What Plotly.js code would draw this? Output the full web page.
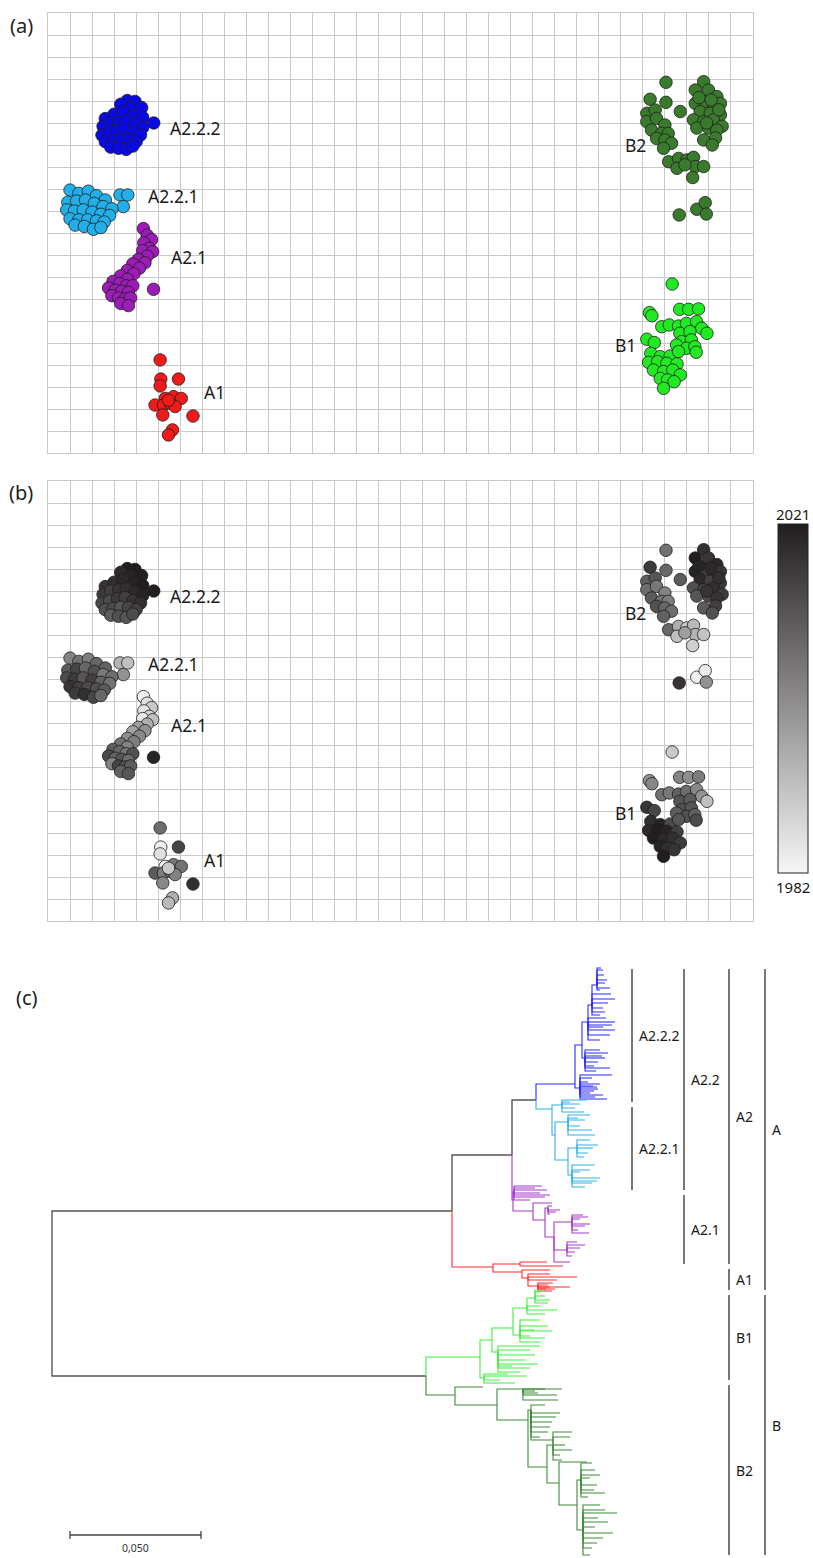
<!DOCTYPE html>
<html><head><meta charset="utf-8">
<script src="https://cdn.plot.ly/plotly-3.0.1.min.js"></script>
<style>html,body{margin:0;padding:0;background:#fff}</style>
</head><body><div id="chart" style="width:813px;height:1558px"></div>
<script>
// ---------------- DATA: panel (a)/(b) point clouds (grid units) ----------------
const clusterNames = ['A2.2.2','A2.2.1','A2.1','A1','B2','B1'];
const clusterColors = ['#0a0ae6','#22aee8','#9c1cb8','#f01a1a','#3a7a2c','#22ea22'];

const a222X = [3.6,3.95,3.3,3.75,4.25,2.6,3.0,3.4,3.9,4.3,2.5,2.85,3.2,3.55,3.95,4.3,2.45,2.8,3.15,3.5,3.85,4.2,2.6,2.95,3.3,3.65,4.0,2.85,3.2,3.55,3.85,4.8];
const a222Y = [3.98,4.02,4.15,4.3,4.3,4.8,4.6,4.5,4.65,4.75,5.15,5.0,4.95,4.9,5.05,5.2,5.55,5.45,5.35,5.3,5.45,5.55,5.85,5.8,5.75,5.75,5.85,6.1,6.15,6.2,6.05,5.0];
const a222Yr = [2021,2021,2019,2020,2021,2017,2018,2019,2020,2021,2016,2015,2017,2018,2019,2020,2014,2013,2016,2015,2017,2018,2012,2013,2011,2014,2015,2010,2012,2011,2013,2021];

const a221X = [1.0,1.4,1.83,2.2,2.6,3.27,3.62,3.42,0.9,1.3,1.7,2.1,2.5,2.9,0.85,1.2,1.6,2.0,2.4,2.8,1.0,1.4,1.8,2.2,2.55,1.23,1.65,2.06,2.4];
const a221Y = [8.05,8.2,8.1,8.3,8.5,8.27,8.27,8.8,8.6,8.55,8.5,8.65,8.8,8.9,8.95,9.0,8.95,9.05,9.15,9.2,9.35,9.4,9.4,9.45,9.5,9.64,9.7,9.83,9.75];
const a221Yr = [2003,2006,2004,2008,2009,1994,1992,2000,2010,2014,2008,2012,2005,2007,2013,2016,2011,2015,2009,2006,2017,2015,2013,2012,2010,2016,2018,2014,2008];

const a21X = [4.33,4.5,4.7,4.35,4.6,4.3,4.75,4.5,4.1,4.4,3.85,4.15,3.6,3.9,3.3,3.6,2.95,3.25,3.55,3.85,2.75,3.05,3.35,3.65,2.9,3.2,3.5,3.75,3.3,3.65,4.79];
const a21Y = [9.8,10.1,10.3,10.45,10.7,10.8,10.85,11.05,11.2,11.35,11.4,11.6,11.7,11.85,11.95,12.1,12.2,12.3,12.4,12.4,12.5,12.6,12.65,12.7,12.85,12.95,13.0,12.95,13.2,13.3,12.56];
const a21Yr = [1983,1986,1990,1985,1988,1984,1992,1995,1998,2000,1997,2002,2001,2004,2006,2003,2010,2008,2005,2012,2013,2009,2011,2007,2003,2014,2012,2010,2009,2011,2020];

const a1X = [5.09,5.12,5.92,5.09,5.32,5.7,6.05,4.86,5.24,5.55,5.77,5.47,5.21,6.58,5.65,5.47];
const a1Y = [15.77,16.64,16.64,16.95,17.52,17.44,17.52,17.82,17.82,17.74,17.89,17.6,18.27,18.32,18.95,19.18];
const a1Yr = [2007,1983,2014,1986,1982,2005,2006,2010,2004,2008,2003,1990,2002,2018,1995,1993];

const b2X = [28.05,27.33,28.05,28.7, 27.18,27.56,27.18,27.62,28.0,27.39,27.85,28.15,27.62,28.0,28.3,27.94,
  29.76,29.38,29.98,30.36,29.38,29.83,30.2,30.52,29.6,30.06,30.52,29.3,29.76,30.2,30.6,29.45,29.98,30.36,29.76,30.3,30.15,
  29.55,30.1,30.45,29.9,
  28.17,28.62,28.55,29.0,29.3,29.38,29.76,28.91,29.26, 28.65,29.45,29.83,29.88];
const b2Y = [3.15,3.92,4.06,4.48, 4.56,4.41,4.94,4.79,5.09,5.32,5.47,5.47,5.7,5.77,5.92,6.15,
  3.12,3.5,3.5,3.8,4.11,4.03,4.18,4.11,4.48,4.56,4.64,4.86,4.94,4.86,5.15,5.23,5.23,5.32,5.77,5.68,6.0,
  3.85,3.95,4.4,5.0,
  6.76,6.61,7.06,6.68,6.56,6.98,6.98,6.9,7.48, 9.18,8.92,8.62,9.14];
const b2Yr = [2006,2016,2008,2010, 2009,2011,2007,2005,2003,2010,2006,2004,2012,2008,2007,2009,
  2018,2021,2017,2019,2020,2016,2018,2017,2019,2015,2016,2012,2014,2018,2016,2011,2013,2017,2010,2015,2012,
  2020,2019,2018,2017,
  2008,1995,1992,1990,1993,1994,1991,1998,1989, 2017,1983,1984,2000];

const b1X = [28.33,27.3,27.41,28.67,29.08,29.53,27.86,28.2,28.62,28.98,29.44,29.67,29.91,28.68,29.14,28.76,29.2,27.18,27.52,
  28.53,28.98,29.36,29.42,27.36,27.79,28.24,28.62,27.26,27.67,28.09,28.55,27.48,27.94,28.36,28.7,27.79,28.12,28.42,27.94];
const b1Y = [12.32,13.62,13.76,13.47,13.47,13.45,14.26,14.18,14.23,14.11,14.03,14.33,14.56,14.56,14.48,14.94,14.86,14.83,14.98,
  15.09,15.24,15.17,15.42,15.47,15.62,15.59,15.39,15.88,15.85,15.92,15.95,16.23,16.3,16.23,16.45,16.61,16.68,16.76,17.06];
const b1Yr = [1990,2000,2002,2003,2001,2004,2006,2005,2009,2007,2002,2000,1992,2011,2010,2012,2011,2017,2014,
  2010,2012,2009,2013,2018,2020,2013,2011,2019,2021,2020,2015,2021,2019,2018,2016,2020,2018,2017,2021];

const clusterX = [a222X,a221X,a21X,a1X,b2X,b1X];
const clusterY = [a222Y,a221Y,a21Y,a1Y,b2Y,b1Y];
const clusterYear = [a222Yr,a221Yr,a21Yr,a1Yr,b2Yr,b1Yr];
const labelX = [5.45,4.45,5.5,7.0,26.09,25.64];
const labelY = [5.23,8.32,11.09,17.23,6.0,15.09];
const yearMin = 1982, yearMax = 2021;

// ---------------- DATA: panel (c) tree ----------------
// depth in tree units (scale bar 0,050 = 131 units); y = tip-order position
const UNIT = 0.05/131;
const treeNodes = [
 ['root',null,0,1293,'bb'],['A','root',400,1211,'bb'],['B','root',374,1376,'bb'],
 ['A2','A',460,1155,'bb'],['A1','A',441,1267,'A1'],['A22','A2',484,1100,'bb'],['A21','A2',461,1200,'A21'],
 ['A222','A22',523,1084,'A222'],['A221','A22',500,1109,'A221'],
 ['b_low','A222',528,1088,'A222'],['b2','A222',530,1045,'A222'],['b_mid','b2',533,1058,'A222'],
 ['b3','b2',536,1022,'A222'],['b4','b3',540,1005,'A222'],['b5','b4',545,985,'A222'],
 ['c1','A221',510,1105,'A221'],['c2','A221',503,1135,'A221'],['c3','c2',516,1122,'A221'],
 ['c4','c2',516,1160,'A221'],['c5','c4',525,1148,'A221'],['c6','c4',520,1175,'A221'],
 ['p1','A21',462,1192,'A21'],['p2','A21',481,1211,'A21'],['p3','p2',493,1220,'A21'],
 ['p3a','p3',496,1208,'A21'],['p4','p3',502,1237,'A21'],['p5','p4',520,1222,'A21'],['p6','p4',515,1250,'A21'],
 ['r1','A1',468,1264,'A1'],['r2','A1',470,1272,'A1'],['r3','r2',476,1278,'A1'],['r4','r3',486,1286,'A1'],
 ['B1','B',428,1357,'B1'],['g1','B1',440,1340,'B1'],['glow','B1',432,1378,'B1'],['g2','g1',461,1328,'B1'],
 ['g3','g1',446,1352,'B1'],['g4','g2',475,1308,'B1'],['g5','g2',468,1335,'B1'],['g6','g4',483,1298,'B1'],
 ['B2','B',403,1395,'B2'],['k1','B2',445,1405,'B2'],['k2','k1',471,1389,'B2'],['k3','k1',476,1420,'B2'],
 ['k4','k3',479,1410,'B2'],['k5','k3',495,1467,'B2'],['k6','k5',501,1445,'B2'],['k7','k5',507,1483,'B2'],
 ['k8','k7',525,1505,'B2'],['k9','k8',529,1480,'B2'],['k10','k8',531,1530,'B2']
];
const treeTips = [
 ['b_low',555,1099],['b_low',545,1087],['b_low',542,1091],['b_low',538,1093],['b_low',548,1084],['b_low',536,1082],['b_low',551,1095],['b_low',540,1078],['b_low',560,1075],['b_low',543,1097],['b_low',546,1089],['b_low',541,1086],
 ['b_mid',548,1050],['b_mid',553,1058],['b_mid',546,1062],['b_mid',542,1066],['b_mid',556,1053],['b_mid',558,1068],['b_mid',544,1071],['b_mid',550,1056],
 ['b3',563,1022],['b3',563,1030],['b3',551,1027],['b3',558,1035],['b3',548,1040],['b3',554,1018],['b3',560,1025],
 ['b4',563,999],['b4',553,1012],['b4',548,1015],['b4',556,1003],['b4',551,1008],['b4',559,994],
 ['b5',551,970],['b5',552,975],['b5',555,980],['b5',548,990],['b5',558,988],['b5',553,983],['b5',549,968],
 ['c1',535,1100],['c1',528,1104],['c1',523,1108],['c1',532,1112],['c1',518,1102],
 ['c3',538,1115],['c3',543,1135],['c3',533,1120],['c3',528,1126],['c3',540,1130],['c3',526,1118],
 ['c5',538,1140],['c5',541,1148],['c5',536,1153],['c5',546,1145],['c5',532,1157],
 ['c6',543,1165],['c6',538,1170],['c6',548,1178],['c6',540,1183],['c6',533,1187],['c6',545,1181],['c6',528,1172],
 ['p1',495,1190],['p1',488,1193],['p1',483,1188],['p1',493,1197],['p1',478,1200],['p1',498,1195],['p1',490,1186],
 ['p2',500,1203],
 ['p3a',500,1206],['p3a',508,1210],['p3a',504,1212],['p3a',498,1214],
 ['p4',518,1262],
 ['p5',536,1217],['p5',537,1233],['p5',528,1219],['p5',533,1226],['p5',526,1230],['p5',531,1215],['p5',538,1224],
 ['p6',525,1242],['p6',533,1245],['p6',523,1252],['p6',520,1256],['p6',528,1248],
 ['r1',495,1262],['r1',511,1266],['r2',498,1270],
 ['r3',525,1277],['r3',498,1274],['r3',505,1280],
 ['r4',501,1283],['r4',498,1287],['r4',518,1287],['r4',494,1289],['r4',500,1291],['r4',496,1285],['r4',503,1289],
 ['g4',505,1310],['g4',493,1314],['g4',488,1306],
 ['g6',488,1292],['g6',493,1296],['g6',498,1300],['g6',491,1290],['g6',496,1303],
 ['g5',488,1320],['g5',496,1326],['g5',483,1330],['g5',493,1338],['g5',488,1342],['g5',478,1336],['g5',500,1331],
 ['g3',488,1346],['g3',478,1350],['g3',483,1355],['g3',473,1360],['g3',486,1364],['g3',478,1368],['g3',468,1372],['g3',460,1366],
 ['glow',475,1376],['glow',463,1383],['glow',448,1380],['glow',456,1374],
 ['B2',431,1387],
 ['k2',493,1389],['k2',510,1389],['k2',486,1393],['k2',505,1395],['k2',506,1400],['k2',483,1391],
 ['k4',508,1413],['k4',500,1422],['k4',498,1427],['k4',504,1417],['k4',493,1405],['k4',496,1432],['k4',488,1437],['k4',501,1440],
 ['k6',520,1432],['k6',518,1437],['k6',513,1445],['k6',520,1450],['k6',508,1455],['k6',510,1460],
 ['k7',535,1462],
 ['k9',540,1463],['k9',543,1470],['k9',548,1475],['k9',538,1478],['k9',545,1485],['k9',542,1490],['k9',553,1493],['k9',536,1497],
 ['k10',565,1513],['k10',561,1533],['k10',548,1505],['k10',553,1510],['k10',546,1518],['k10',556,1522],['k10',543,1527],['k10',551,1538],['k10',545,1543],['k10',540,1548],['k10',538,1555]
];
const cladeColors = {bb:'#555555',A222:'#2b2bff',A221:'#33b0ea',A21:'#a53ac9',A1:'#ff2a2a',B1:'#3cf03c',B2:'#3f8a3a'};

const cladeBarLabels = ['A2.2.2','A2.2.1','A2.2','A2.1','A2','A1','A','B1','B2','B'];
const cladeBarLevel  = [0,0,1,1,2,2,3,2,2,3];
const cladeBarStart  = [969,1107,969,1195,969,1269,969,1295,1385,1295];
const cladeBarEnd    = [1102,1190,1190,1264,1264,1290,1290,1380,1555,1555];
const scaleBarValue = 0.05, scaleBarLabel = '0,050';

// ---------------- BUILD ----------------
const W = 813, H = 1558;
const FONT = 'Noto Sans, Open Sans, sans-serif';
const traces = [];
for (let i=0;i<clusterNames.length;i++){
  traces.push({type:'scatter',mode:'markers',x:clusterX[i],y:clusterY[i],xaxis:'x',yaxis:'y',hoverinfo:'skip',
    marker:{size:12.5,color:clusterColors[i],line:{color:'#1e1e1e',width:0.8},opacity:1}});
}
for (let i=0;i<clusterNames.length;i++){
  traces.push({type:'scatter',mode:'markers',x:clusterX[i],y:clusterY[i],xaxis:'x2',yaxis:'y2',hoverinfo:'skip',
    marker:{size:12.5,color:clusterYear[i],coloraxis:'coloraxis',line:{color:'#1e1e1e',width:0.8}}});
}
// tree segments
const nodeMap = {};
treeNodes.forEach(n=>{nodeMap[n[0]]={parent:n[1],d:n[2],y:n[3],clade:n[4]};});
const segs = {};
function addEdge(p,d,y,clade){
  if(!segs[clade]) segs[clade]={x:[],y:[]};
  const s=segs[clade];
  s.x.push(p.d*UNIT,p.d*UNIT,d*UNIT,null);
  s.y.push(p.y,y,y,null);
}
treeNodes.forEach(n=>{ if(n[1]) addEdge(nodeMap[n[1]],n[2],n[3],n[4]); });
treeTips.forEach(t=>{ const p=nodeMap[t[0]]; addEdge(p,t[1],t[2],p.clade); });
Object.keys(segs).forEach(c=>{
  traces.push({type:'scatter',mode:'lines',x:segs[c].x,y:segs[c].y,xaxis:'x3',yaxis:'y3',hoverinfo:'skip',
    line:{color:cladeColors[c],width:c==='bb'?1.4:1.1}});
});

const gridAxis = (dom)=>({domain:dom,range:[0,32],dtick:1,tick0:0,showgrid:true,gridcolor:'#c9c9c9',gridwidth:1,
  zeroline:false,showticklabels:false,ticks:'',showline:true,linecolor:'#c9c9c9',linewidth:1,mirror:true,fixedrange:true});
const gridYAxis = (dom)=>({domain:dom,range:[20,0],dtick:1,tick0:0,showgrid:true,gridcolor:'#c9c9c9',gridwidth:1,
  zeroline:false,showticklabels:false,ticks:'',showline:true,linecolor:'#c9c9c9',linewidth:1,mirror:true,fixedrange:true});

const annotations = [];
const shapes = [];
const panelLabels = [['(a)',21,25],['(b)',21,492],['(c)',27,997]];
panelLabels.forEach(p=>annotations.push({text:p[0],xref:'paper',yref:'paper',x:p[1]/W,y:1-p[2]/H,showarrow:false,
  xanchor:'center',yanchor:'middle',font:{family:FONT,size:20,color:'#222'}}));
for (let i=0;i<clusterNames.length;i++){
  ['',2].forEach(k=>annotations.push({text:clusterNames[i],xref:'x'+k,yref:'y'+k,x:labelX[i],y:labelY[i],showarrow:false,
    xanchor:'left',yanchor:'middle',font:{family:FONT,size:17.5,color:'#1a1a1a'}}));
}
annotations.push({text:String(yearMax),xref:'paper',yref:'paper',x:793/W,y:1-514/H,showarrow:false,xanchor:'center',yanchor:'middle',font:{family:FONT,size:15,color:'#1a1a1a'}});
annotations.push({text:String(yearMin),xref:'paper',yref:'paper',x:793/W,y:1-887/H,showarrow:false,xanchor:'center',yanchor:'middle',font:{family:FONT,size:15,color:'#1a1a1a'}});

// clade bars
const levelX = [632,684,729,765];
for (let i=0;i<cladeBarLabels.length;i++){
  const xp = levelX[cladeBarLevel[i]]/W;
  shapes.push({type:'line',xref:'paper',yref:'y3',x0:xp,x1:xp,y0:cladeBarStart[i],y1:cladeBarEnd[i],line:{color:'#555',width:1.6}});
  annotations.push({text:cladeBarLabels[i],xref:'paper',yref:'y3',x:xp+5/W,y:(cladeBarStart[i]+cladeBarEnd[i])/2,
    showarrow:false,xanchor:'left',yanchor:'middle',font:{family:FONT,size:14,color:'#1a1a1a'}});
}
// scale bar
const sb0 = 18*UNIT, sb1 = sb0+scaleBarValue, sbY = 1535;
shapes.push({type:'line',xref:'x3',yref:'y3',x0:sb0,x1:sb1,y0:sbY,y1:sbY,line:{color:'#444',width:1.3}});
shapes.push({type:'line',xref:'x3',yref:'y3',x0:sb0,x1:sb0,y0:sbY-4,y1:sbY+4,line:{color:'#444',width:1.3}});
shapes.push({type:'line',xref:'x3',yref:'y3',x0:sb1,x1:sb1,y0:sbY-4,y1:sbY+4,line:{color:'#444',width:1.3}});
annotations.push({text:scaleBarLabel,xref:'x3',yref:'y3',x:(sb0+sb1)/2,y:1548,showarrow:false,xanchor:'center',yanchor:'middle',
  font:{family:FONT,size:10.5,color:'#333'}});

const layout = {
  width:W,height:H,margin:{l:0,r:0,t:0,b:0},paper_bgcolor:'#fff',plot_bgcolor:'rgba(0,0,0,0)',showlegend:false,
  xaxis:gridAxis([48/W,753/W]), yaxis:gridYAxis([1-453/H,1-13/H]),
  xaxis2:Object.assign(gridAxis([48/W,753/W]),{anchor:'y2'}), yaxis2:Object.assign(gridYAxis([1-921/H,1-481/H]),{anchor:'x2'}),
  xaxis3:{domain:[0,1],range:[-52*UNIT,761*UNIT],visible:false,anchor:'y3',fixedrange:true},
  yaxis3:{domain:[0,1-940/H],range:[H,940],visible:false,anchor:'x3',fixedrange:true},
  coloraxis:{cmin:yearMin,cmax:yearMax,colorscale:[[0,'#f6f6f6'],[1,'#221e1f']],
    colorbar:{x:778/W,xanchor:'left',xref:'paper',y:1-698.5/H,yanchor:'middle',yref:'paper',len:349/H,lenmode:'fraction',
      thickness:30,thicknessmode:'pixels',showticklabels:false,ticks:'',outlinewidth:1,outlinecolor:'#222',xpad:0,ypad:0}},
  annotations:annotations,shapes:shapes,font:{family:FONT}
};
layout.xaxis.anchor='y'; layout.yaxis.anchor='x';
Plotly.newPlot('chart',traces,layout,{displayModeBar:false,staticPlot:true});
</script></body></html>
